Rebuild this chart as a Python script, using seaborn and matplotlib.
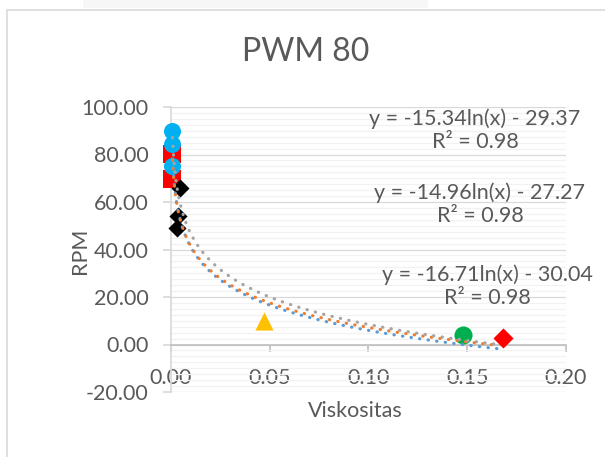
import numpy as np
import pandas as pd
import matplotlib
matplotlib.use("Agg")
import matplotlib.pyplot as plt
from matplotlib.ticker import MultipleLocator, FormatStrFormatter
from matplotlib.patches import Rectangle
import seaborn as sns

# Data
blue_x = [0.0009, 0.0009, 0.0009]
blue_y = [89.9, 84.6, 75.2]
red_sq_x = [0.0009, 0.0009]
red_sq_y = [80.3, 69.5]
black_x = [0.0047, 0.0038, 0.0030]
black_y = [66.0, 54.0, 49.0]
yellow_x = [0.0471]
yellow_y = [10.0]
green_x = [0.1478]
green_y = [4.2]
red_d_x = [0.1683]
red_d_y = [2.8]

# log trendlines (coefficients from the chart labels)
trend_names = ["Series 1", "Series 2", "Series 3"]
trend_a = [-15.34, -14.96, -16.71]
trend_b = [-29.37, -27.27, -30.04]
trend_start = [0.0009, 0.0009, 0.0009]
trend_end = [0.168, 0.166, 0.166]
trend_colors = ["#5B9BD5", "#ED7D31", "#A5A5A5"]
trend_labels = ["y = -15.34ln(x) - 29.37\nR² = 0.98",
                "y = -14.96ln(x) - 27.27\nR² = 0.98",
                "y = -16.71ln(x) - 30.04\nR² = 0.98"]

sns.set_theme(style="white")
plt.rcParams["font.family"] = ["Lato", "DejaVu Sans"]
txt = "#595959"

W, H = 605, 457
fig = plt.figure(figsize=(W / 100, H / 100), dpi=100)
ax = fig.add_axes([170.7 / W, 1 - 392 / H, (566 - 170.7) / W, (392 - 107) / H])

# chart frame and faint top strip
fig.patches.append(Rectangle((83 / W, 1 - 8 / H), (428 - 83) / W, 8 / H,
                             transform=fig.transFigure, color="#F7F7F7", lw=0, zorder=0))
fig.patches.append(Rectangle((7 / W, -0.1), 1.2, 1 - 10 / H + 0.1, transform=fig.transFigure,
                             fill=False, edgecolor="#D9D9D9", lw=1.2, zorder=1))

# markers
pts = [
    (red_sq_x, red_sq_y, "s", "#FF0000", 165),
    (blue_x, blue_y, "o", "#00B0F0", 150),
    (black_x, black_y, "D", "black", 85),
    (yellow_x, yellow_y, "^", "#FFC000", 170),
    (green_x, green_y, "o", "#00B050", 170),
    (red_d_x, red_d_y, "D", "#FF0000", 105),
]
for xs, ys, m, c, s in pts:
    sns.scatterplot(x=xs, y=ys, marker=m, color=c, s=s, linewidth=0, ax=ax,
                    zorder=3, clip_on=False)

# trendlines
for i in range(3):
    xs = np.linspace(trend_start[i], trend_end[i], 300)
    df = pd.DataFrame({"x": xs, "y": trend_a[i] * np.log(xs) + trend_b[i]})
    sns.lineplot(data=df, x="x", y="y", color=trend_colors[i], lw=2.3, ax=ax, zorder=4,
                 linestyle=(0, (0.1, 2.6)), dash_capstyle="round", sort=False, clip_on=False)

ax.set_xlim(0, 0.20)
ax.set_ylim(-20, 100)
ax.xaxis.set_major_locator(MultipleLocator(0.05))
ax.yaxis.set_major_locator(MultipleLocator(20))
ax.yaxis.set_minor_locator(MultipleLocator(2.5))
ax.xaxis.set_major_formatter(FormatStrFormatter("%.2f"))
ax.yaxis.set_major_formatter(FormatStrFormatter("%.2f"))
ax.grid(False)
ax.yaxis.grid(True, which="major", color="#D9D9D9", lw=0.9)
ax.yaxis.grid(True, which="minor", color="#F2F2F2", lw=0.9)
ax.set_axisbelow(True)

for s in ["top", "right"]:
    ax.spines[s].set_visible(False)
ax.spines["left"].set_color("#D9D9D9")
ax.spines["bottom"].set_position(("data", 0))
ax.spines["bottom"].set_color("#BFBFBF")
ax.spines["bottom"].set_linewidth(1.2)
ax.tick_params(axis="y", which="major", length=6, color="#D9D9D9", pad=10,
               labelsize=15.5, labelcolor=txt, left=True)
ax.tick_params(axis="x", which="major", length=5, color="#BFBFBF", pad=12,
               labelsize=15.5, labelcolor=txt, bottom=True, direction="out")
ax.tick_params(which="minor", length=0)
ax.set_xlabel("")
ax.set_ylabel("")


def ftext(x, y, s, **kw):
    fig.text(x / W, 1 - y / H, s, color=txt, **kw)


ftext(306, 52, "PWM 80", fontsize=23, ha="center", va="center")
ftext(80, 251, "RPM", fontsize=15.5, ha="center", va="center", rotation=90)
ftext(355, 411, "Viskositas", fontsize=15.5, ha="center", va="center")
label_pos = [(475, 130), (480, 204), (487, 286)]
for (lx, ly), lab in zip(label_pos, trend_labels):
    ftext(lx, ly, lab, fontsize=15.5, ha="center", va="center", linespacing=1.2,
          multialignment="center")

fig.savefig("out.png", dpi=100)
